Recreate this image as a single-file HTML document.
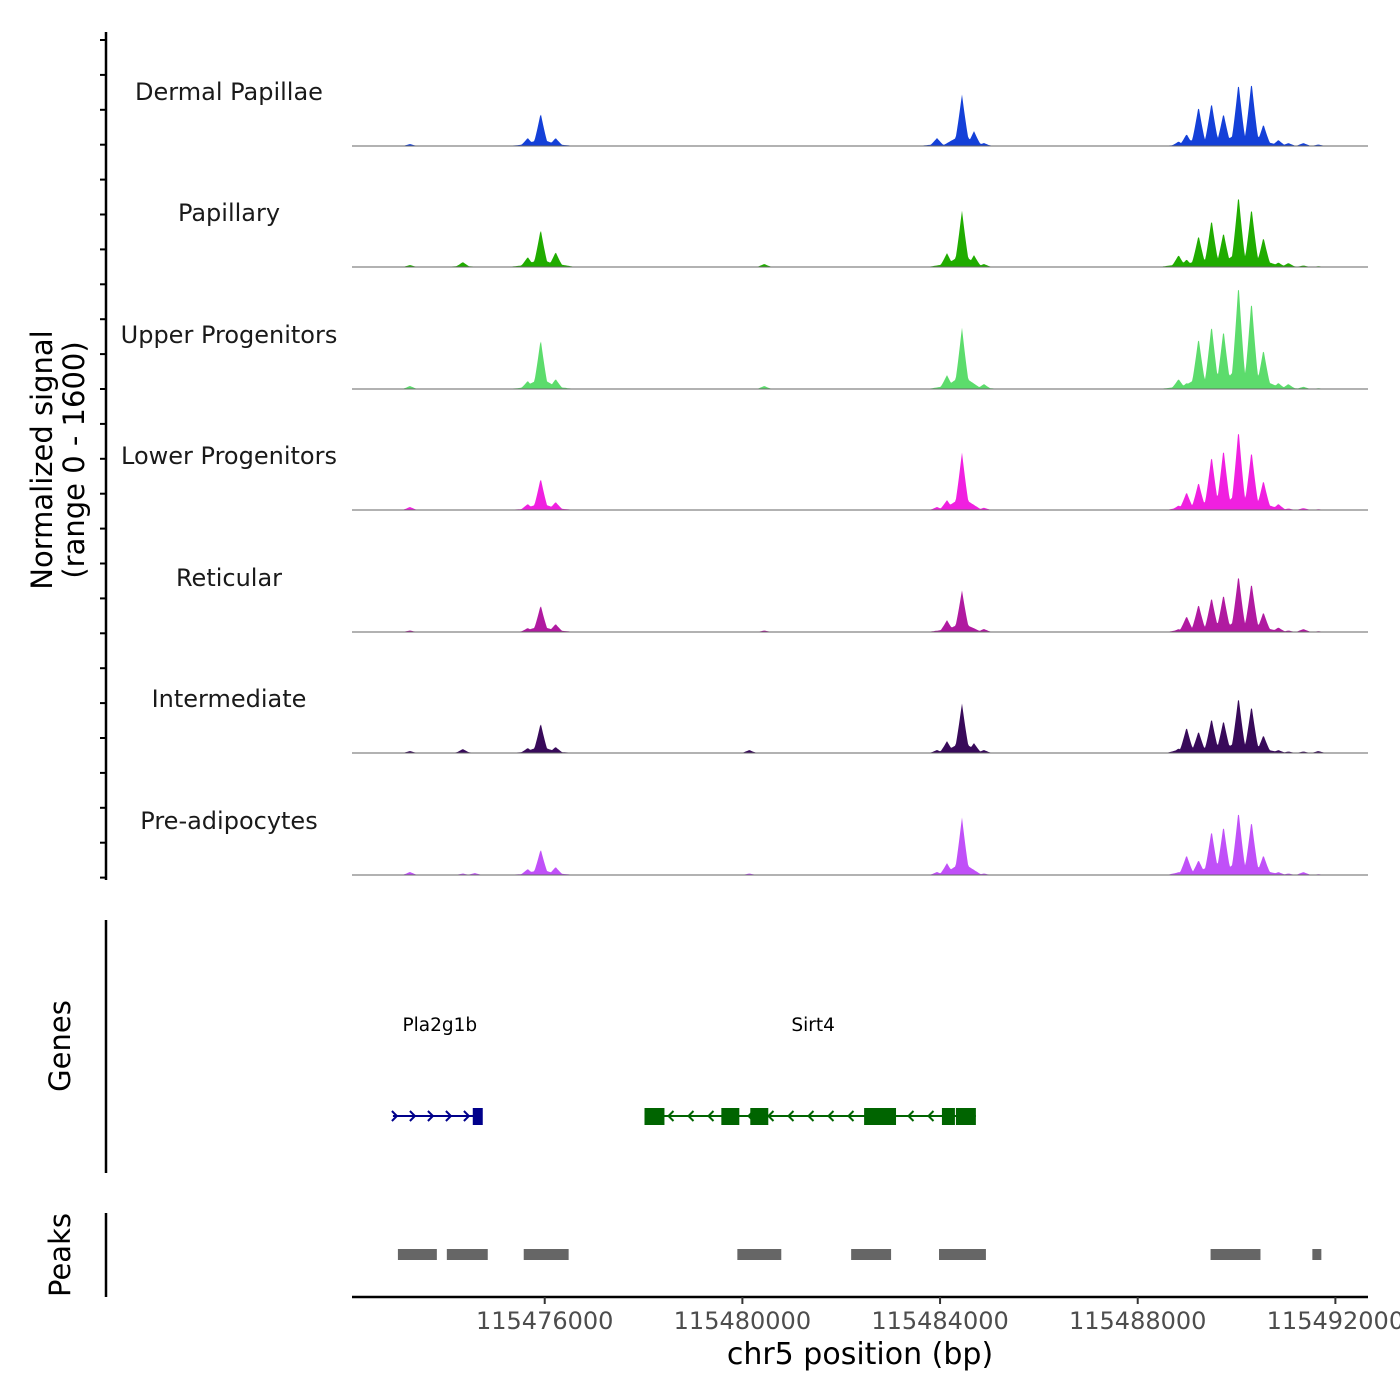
<!DOCTYPE html>
<html><head><meta charset="utf-8"><style>
body{margin:0;background:#fff}
svg{display:block;font-family:"DejaVu Sans","Liberation Sans",sans-serif}
</style></head><body>
<svg id="chart" width="1400" height="1400" viewBox="0 0 1400 1400"></svg>
<script>
const xDomain=[115472100,115492660];
const xTicks=[115476000,115480000,115484000,115488000,115492000];
const tracks=["Dermal Papillae","Papillary","Upper Progenitors","Lower Progenitors","Reticular","Intermediate","Pre-adipocytes"];
const trackColors=["#1440d8","#20ac00","#5cdc6c","#f020e0","#b01aa0","#380a5a","#c050f8"];
const peakCenters=[115473272,115474342,115474585,115475656,115475918,115476221,115480140,115480443,115483938,115484140,115484443,115484686,115484888,115488827,115488989,115489231,115489494,115489736,115490039,115490302,115490544,115490847,115491049,115491353,115491655];
const sigDermal=[26,0,0,106,436,106,0,0,106,0,686,198,40,60,158,528,580,436,845,858,290,80,40,40,20];
const sigPapillary=[26,66,0,132,500,198,0,40,0,185,752,158,40,158,100,422,634,462,964,792,396,60,53,20,10];
const sigUpper=[40,0,0,106,660,132,0,40,0,185,818,66,66,132,80,686,858,792,1412,1188,528,80,66,30,10];
const sigLower=[40,0,0,80,422,106,0,0,40,132,766,66,30,60,238,370,726,818,1082,792,396,80,20,26,10];
const sigReticular=[20,0,0,53,356,106,0,20,0,158,554,40,40,40,211,370,462,502,766,660,264,60,20,40,10];
const sigIntermediate=[26,53,0,66,396,80,40,0,40,158,660,132,40,60,343,290,462,436,752,634,238,40,20,20,26];
const sigPreadipo=[40,20,26,80,343,106,20,0,40,158,766,66,20,40,264,198,594,660,858,726,264,40,20,40,10];
const signals=[sigDermal,sigPapillary,sigUpper,sigLower,sigReticular,sigIntermediate,sigPreadipo];
const geneNames=["Pla2g1b","Sirt4"];
const geneStarts=[115472928,115478019];
const geneEnds=[115474706,115484725];
const geneStrands=["+","-"];
const geneColors=["#00008b","#006400"];
const exonGene=[0,1,1,1,1,1,1];
const exonStarts=[115474544,115478019,115479574,115480160,115482463,115484038,115484321];
const exonEnds=[115474746,115478423,115479938,115480524,115483109,115484301,115484725];
const peakStarts=[115473029,115474019,115475575,115479898,115482201,115483979,115489474,115491534];
const peakEnds=[115473817,115474847,115476484,115480787,115483009,115484928,115490484,115491716];

const NS="http://www.w3.org/2000/svg";
const svg=document.getElementById('chart');
function mk(tag,attrs,parent){const e=document.createElementNS(NS,tag);for(const k in attrs)e.setAttribute(k,attrs[k]);(parent||svg).appendChild(e);return e;}
const X0=352,X1=1368;
const xs=v=>X0+(v-xDomain[0])/(xDomain[1]-xDomain[0])*(X1-X0);
const baselines=[146,267,389,510,632,753,875];
const ys=(v,b)=>b-v/1600*121;

let ax=mk('line',{x1:106,y1:32,x2:106,y2:880,stroke:'#000','stroke-width':2.5});


for(let y=40;y<=878;y+=34.9){const t=mk('line',{x1:100,y1:y,x2:106,y2:y,stroke:'#000','stroke-width':2});

}
let yt=mk('text',{x:0,y:0,'font-size':29,'text-anchor':'middle',transform:'translate(52,460) rotate(-90)'});


yt.innerHTML='<tspan x="0" dy="0">Normalized signal</tspan><tspan x="0" dy="32">(range 0 - 1600)</tspan>';

tracks.forEach((name,i)=>{
  const b=baselines[i];
  const g=mk('g',{});
  
  
  let d='M'+X0+','+b;
  for(let px=X0;px<=1325;px+=1){
    let v=0;
    peakCenters.forEach((c,j)=>{const cx=xs(c);const dist=Math.abs(px-cx);const hw=8;
      if(dist<hw){v=Math.max(v,signals[i][j]*Math.pow(1-dist/hw,1.2));}
      if(dist<20){v=Math.max(v,signals[i][j]*0.22*(1-dist/20));}});
    d+=' L'+px+','+ys(v,b).toFixed(1);
  }
  d+=' L1325,'+b+' Z';
  const p=mk('path',{d:d,fill:trackColors[i]},g);
  
  
  const bl=mk('line',{x1:X0,y1:b,x2:X1,y2:b,stroke:'#666','stroke-width':1},g);
  
  
  const lb=mk('text',{x:229,y:b-46,'font-size':24,'text-anchor':'middle',fill:'#1a1a1a'},g);
  
  
  lb.textContent=name;
});

let ga=mk('line',{x1:106,y1:920,x2:106,y2:1173,stroke:'#000','stroke-width':2.5});


let gt=mk('text',{x:0,y:0,'font-size':29,'text-anchor':'middle',transform:'translate(70,1046) rotate(-90)'});


gt.textContent='Genes';
geneNames.forEach((n,i)=>{
  const g=mk('g',{});
  
  
  const x1=xs(geneStarts[i]),x2=xs(geneEnds[i]),y=1116,c=geneColors[i];
  mk('line',{x1:x1,y1:y,x2:x2,y2:y,stroke:c,'stroke-width':2},g);
  const step=geneStrands[i]=='+'?18:20;
  for(let x=x1+4;x<x2-4;x+=step){
    const dx=geneStrands[i]=='+'?5:-5;
    mk('polyline',{points:`${x-dx},${y-5} ${x},${y} ${x-dx},${y+5}`,fill:'none',stroke:c,'stroke-width':2},g);
  }
  const t=mk('text',{x:(x1+x2)/2+3,y:1031,'font-size':18.5,'text-anchor':'middle',fill:'#000'},g);
  
  
  t.textContent=n;
});
exonStarts.forEach((s,k)=>{
  const x1=xs(s),x2=xs(exonEnds[k]);
  const r=mk('rect',{x:x1,y:1108,width:Math.max(x2-x1,6),height:17,fill:geneColors[exonGene[k]]});
  
  
});

let pa=mk('line',{x1:106,y1:1213,x2:106,y2:1297,stroke:'#000','stroke-width':2.5});


let pt=mk('text',{x:0,y:0,'font-size':29,'text-anchor':'middle',transform:'translate(70,1255) rotate(-90)'});


pt.textContent='Peaks';
peakStarts.forEach((s,k)=>{
  const r=mk('rect',{x:xs(s),y:1249,width:xs(peakEnds[k])-xs(s),height:11,fill:'#666'});
  
  
});

let xa=mk('line',{x1:X0,y1:1297,x2:X1,y2:1297,stroke:'#000','stroke-width':2.5});


xTicks.forEach(v=>{
  const x=xs(v);
  const t=mk('line',{x1:x,y1:1297,x2:x,y2:1304,stroke:'#333','stroke-width':2});
  
  
  const l=mk('text',{x:x,y:1329,'font-size':24,'text-anchor':'middle',fill:'#4d4d4d'});
  
  
  l.textContent=v;
});
let xt=mk('text',{x:860,y:1364,'font-size':30,'text-anchor':'middle',fill:'#000'});


xt.textContent='chr5 position (bp)';
</script>
</body></html>
